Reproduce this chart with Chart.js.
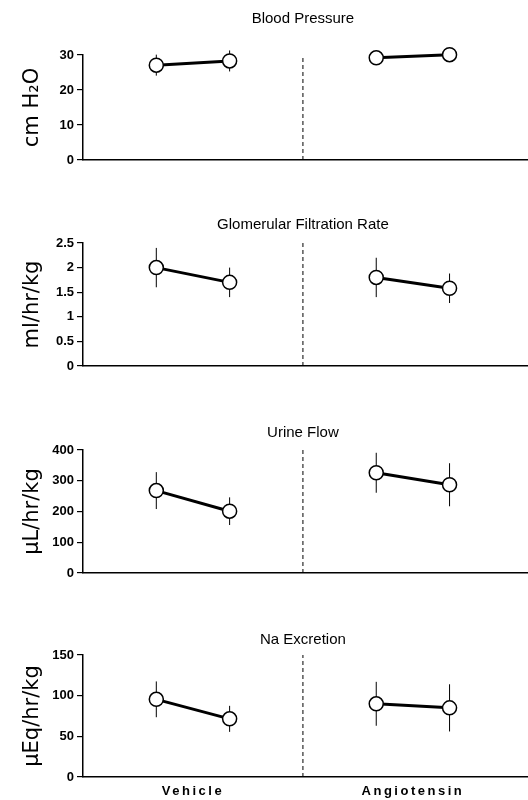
<!DOCTYPE html>
<html>
<head>
<meta charset="utf-8">
<script src="https://cdn.jsdelivr.net/npm/chart.js@4"></script>
<style>
  html, body { margin: 0; padding: 0; background: #fff; }
  #wrap { position: relative; width: 528px; height: 800px; }
  #wrap canvas { position: absolute; left: 0; top: 0; }
</style>
</head>
<body>
<div id="wrap">
  <canvas id="c0" width="528" height="800"></canvas>
  <canvas id="c1" width="528" height="800"></canvas>
  <canvas id="c2" width="528" height="800"></canvas>
  <canvas id="c3" width="528" height="800"></canvas>
</div>
<script>
// Renal measures, vehicle vs angiotensin (two periods each)

const groups = ['Vehicle', 'Angiotensin'];
const panelTitles = ['Blood Pressure', 'Glomerular Filtration Rate', 'Urine Flow', 'Na Excretion'];
const yTitles = ['cm H\u2082O', 'ml/hr/kg', '\u00b5L/hr/kg', '\u00b5Eq/hr/kg'];
const yMax = [30, 2.5, 400, 150];
const yStep = [10, 0.5, 100, 50];

// x positions of the two periods inside each group, and the divider
const xVehicle = [1, 2];
const xAngio = [4, 5];
const xDivider = 3;
const xGroupCenters = [1.5, 4.5];

const vehicleMean = [[27.1, 28.3], [2.0, 1.7], [268, 201], [95.5, 71.5]];
const vehicleErr = [[3, 3], [0.4, 0.3], [60, 45], [22, 16]];
const angioMean = [[29.2, 30.1], [1.8, 1.58], [326, 287], [90, 85]];
const angioErr = [[1, 1], [0.4, 0.3], [65, 70], [27, 29]];

// plot area top / bottom in page pixels
const plotTop = [55, 243, 450, 655];
const plotBottom = [160, 366, 573, 777];

const tickFont = { family: 'Liberation Sans', size: 13, weight: 'bold' };

// error bars drawn under the markers
const errorBars = {
    id: 'errorBars',
    beforeDatasetsDraw(chart) {
        const { ctx, scales: { x, y } } = chart;
        ctx.save();
        ctx.strokeStyle = '#000';
        ctx.lineWidth = 1;
        chart.data.datasets.forEach(ds => {
            if (!ds.errors) return;
            ds.data.forEach((p, i) => {
                const px = x.getPixelForValue(p.x);
                ctx.beginPath();
                ctx.moveTo(px, y.getPixelForValue(p.y + ds.errors[i]));
                ctx.lineTo(px, y.getPixelForValue(p.y - ds.errors[i]));
                ctx.stroke();
            });
        });
        ctx.restore();
    }
};

const panelText = {
    id: 'panelText',
    afterDraw(chart, args, opts) {
        const { ctx, chartArea, scales: { x } } = chart;
        ctx.save();
        ctx.fillStyle = '#000';
        ctx.textAlign = 'center';
        ctx.textBaseline = 'middle';
        ctx.font = '15px "Liberation Sans"';
        ctx.fillText(opts.title, x.getPixelForValue(xDivider), chartArea.top - opts.titleGap);
        if (opts.groupLabels) {
            ctx.font = 'bold 13px "Liberation Sans"';
            ctx.letterSpacing = '2.5px';
            opts.groupLabels.forEach((g, i) => {
                ctx.fillText(g, x.getPixelForValue(xGroupCenters[i]), chartArea.bottom + 14);
            });
        }
        ctx.restore();
    }
};

const titleGaps = [36, 18, 17, 15];

function makePanel(i) {
    const pts = (xs, ys) => xs.map((v, k) => ({ x: v, y: ys[k] }));
    const lineStyle = {
        borderColor: '#000',
        borderWidth: 3,
        pointRadius: 7,
        pointBorderWidth: 1.5,
        pointBackgroundColor: '#fff',
        pointBorderColor: '#000',
        clip: false
    };

    new Chart(document.getElementById('c' + i), {
        type: 'line',
        data: {
            datasets: [
                {
                    data: [{ x: xDivider, y: 0 }, { x: xDivider, y: yMax[i] }],
                    borderColor: '#000', borderWidth: 1, borderDash: [4, 3], pointRadius: 0, clip: false
                },
                { data: pts(xVehicle, vehicleMean[i]), errors: vehicleErr[i], ...lineStyle },
                { data: pts(xAngio, angioMean[i]), errors: angioErr[i], ...lineStyle }
            ]
        },
        options: {
            responsive: false,
            animation: false,
            events: [],
            layout: { autoPadding: false, padding: { top: plotTop[i], bottom: 800 - plotBottom[i], right: 0, left: 0 } },
            scales: {
                x: {
                    type: 'linear', min: 0, max: 6.07,
                    ticks: { display: false },
                    grid: { display: false, drawTicks: false },
                    border: { display: true, color: '#000', width: 1.5 }
                },
                y: {
                    min: 0, max: yMax[i],
                    afterFit(scale) { scale.width = 83; },
                    ticks: { stepSize: yStep[i], color: '#000', font: tickFont, padding: 3, callback: v => String(v) },
                    grid: { drawOnChartArea: false, drawTicks: true, tickLength: 6, color: '#000', lineWidth: 1.2 },
                    border: { display: true, color: '#000', width: 1.5 },
                    title: {
                        display: true, text: yTitles[i], color: '#000',
                        font: { family: 'DejaVu Sans', size: 21 },
                        padding: { top: 20, bottom: 0 }
                    }
                }
            },
            plugins: {
                legend: { display: false },
                tooltip: { enabled: false },
                panelText: {
                    title: panelTitles[i],
                    titleGap: titleGaps[i],
                    groupLabels: i === 3 ? groups : null
                }
            }
        },
        plugins: [errorBars, panelText]
    });
}

[0, 1, 2, 3].forEach(makePanel);
</script>
</body>
</html>
